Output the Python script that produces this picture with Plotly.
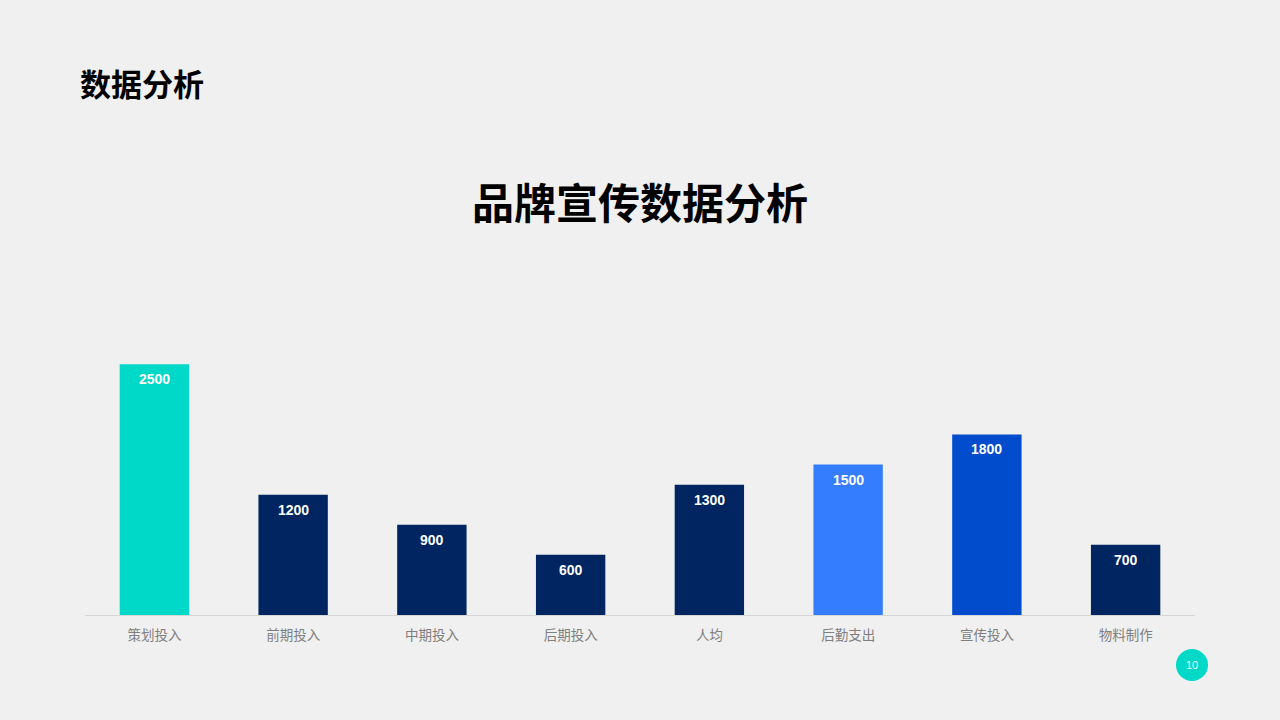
import plotly.graph_objects as go

categories = ["策划投入", "前期投入", "中期投入", "后期投入", "人均", "后勤支出", "宣传投入", "物料制作"]
values = [2500, 1200, 900, 600, 1300, 1500, 1800, 700]
bar_colors = ["#00D8C8", "#002561", "#002561", "#002561", "#002561", "#357DFF", "#004CCC", "#002561"]
page_title = "数据分析"
chart_title = "品牌宣传数据分析"
page_number = "10"

fig = go.Figure()
fig.add_trace(go.Bar(
    x=categories, y=values,
    marker=dict(color=bar_colors, line=dict(width=0)),
    width=0.5,
    hoverinfo="x+y",
))

for c, v in zip(categories, values):
    fig.add_annotation(
        x=c, y=v, text=str(v), showarrow=False,
        yanchor="middle", yshift=-15,
        font=dict(family="Arial, Liberation Sans", size=14, color="white", weight="bold"),
    )

fig.add_annotation(
    xref="paper", yref="paper", x=0.5, y=1, yshift=64,
    xanchor="center", yanchor="middle", showarrow=False,
    text=chart_title,
    font=dict(family="Noto Sans CJK SC", size=42, color="black", weight="bold"),
)

fig.update_layout(
    width=1280, height=720,
    margin=dict(l=85, r=85, t=264, b=105),
    paper_bgcolor="#f0f0f0", plot_bgcolor="rgba(0,0,0,0)",
    showlegend=False,
    title=dict(text=page_title, x=80/1280, xanchor="left", y=1-85/720, yanchor="middle",
               font=dict(family="Noto Sans CJK SC", size=31, color="black", weight="bold")),
    xaxis=dict(
        showline=True, linecolor="#d6d6d6", linewidth=1,
        showgrid=False, zeroline=False,
        ticks="", ticklabelstandoff=8,
        tickfont=dict(family="Noto Sans CJK SC", size=13.5, color="#7f7f7f"),
    ),
    yaxis=dict(range=[0, 3500], visible=False, showgrid=False, zeroline=False),
    bargap=0.5,
    shapes=[dict(type="circle", xref="paper", yref="paper",
                 x0=(1176 - 85) / 1110, x1=(1208 - 85) / 1110,
                 y0=(615 - 681) / 351, y1=(615 - 649) / 351,
                 fillcolor="#00D8C8", line=dict(width=0))],
)
fig.add_annotation(
    xref="paper", yref="paper", x=(1192 - 85) / 1110, y=(615 - 665) / 351,
    text=page_number, showarrow=False, xanchor="center", yanchor="middle",
    font=dict(family="Arial, Liberation Sans", size=11, color="white"),
)

fig.write_html("out.html", config={"displayModeBar": False},
               post_script="document.body.style.margin='0';document.body.style.background='#f0f0f0';")
